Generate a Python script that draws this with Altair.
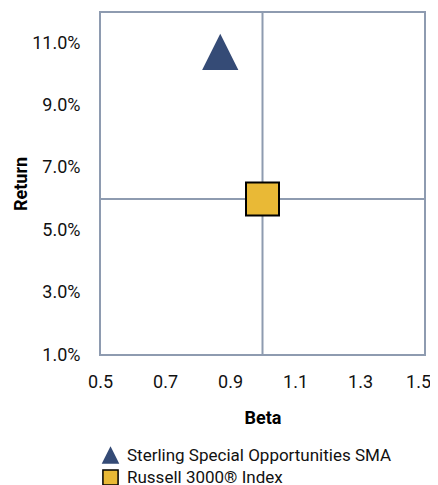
import altair as alt
import pandas as pd

names = ["Sterling Special Opportunities SMA", "Russell 3000® Index"]
betas = [0.87, 1.00]
returns = [0.107, 0.060]
fills = ["#354B76", "#E9B936"]
strokes = ["#354B76", "#000000"]
shapes = ["M0,-1L1,1L-1,1Z", "square"]
x_ticks = [0.5, 0.7, 0.9, 1.1, 1.3, 1.5]
y_ticks = [0.01, 0.03, 0.05, 0.07, 0.09, 0.11]
center_beta = [1.0]
center_return = [0.06]

GRAY = "#8E9BB0"
FONT = "Roboto"

df = pd.DataFrame({"name": names, "beta": betas, "ret": returns})

xscale = alt.Scale(domain=[0.5, 1.5], nice=False, zero=False)
yscale = alt.Scale(domain=[0.01, 0.12], nice=False, zero=False)
xaxis = alt.Axis(
    values=x_ticks, format=".1f", title="Beta", labelPadding=18, titlePadding=18, labelFlush=False,
    labelOffset={"condition": {"test": "datum.value >= 1.5", "value": -7}, "value": 0},
)
yaxis = alt.Axis(values=y_ticks, format=".1%", title="Return", labelPadding=20, titlePadding=1, labelFlush=False)

vrule = alt.Chart(pd.DataFrame({"beta": center_beta})).mark_rule(color=GRAY, strokeWidth=2).encode(
    x=alt.X("beta:Q", scale=xscale, axis=xaxis)
)
hrule = alt.Chart(pd.DataFrame({"ret": center_return})).mark_rule(color=GRAY, strokeWidth=2).encode(
    y=alt.Y("ret:Q", scale=yscale, axis=yaxis)
)

legend = alt.Legend(
    title=None, orient="none", legendX=2, legendY=435, symbolSize=230,
    labelFontSize=17, labelFont=FONT, labelColor="#111111", rowPadding=-1,
    symbolStrokeWidth=1.5, labelOffset=8, labelLimit=400,
)

points = alt.Chart(df).mark_point(filled=True, size=1089, opacity=1, strokeWidth=2).encode(
    x=alt.X("beta:Q", scale=xscale, axis=xaxis),
    y=alt.Y("ret:Q", scale=yscale, axis=yaxis),
    shape=alt.Shape("name:N", scale=alt.Scale(domain=names, range=shapes), legend=legend),
    fill=alt.Fill("name:N", scale=alt.Scale(domain=names, range=fills), legend=legend),
    stroke=alt.Stroke("name:N", scale=alt.Scale(domain=names, range=strokes), legend=legend),
)

chart = alt.layer(vrule, hrule, points).properties(
    width=325, height=343, autosize="none",
    padding={"left": 92, "top": 4, "right": 5, "bottom": 130},
).configure_view(
    stroke=GRAY, strokeWidth=2
).configure_axis(
    domain=False, ticks=False, tickSize=0, grid=False,
    labelFont=FONT, labelFontSize=18, labelColor="#111111",
    titleFont=FONT, titleFontSize=18, titleFontWeight="bold", titleColor="#000000",
)

chart.save("out.html", embed_options={"renderer": "svg", "actions": False})
